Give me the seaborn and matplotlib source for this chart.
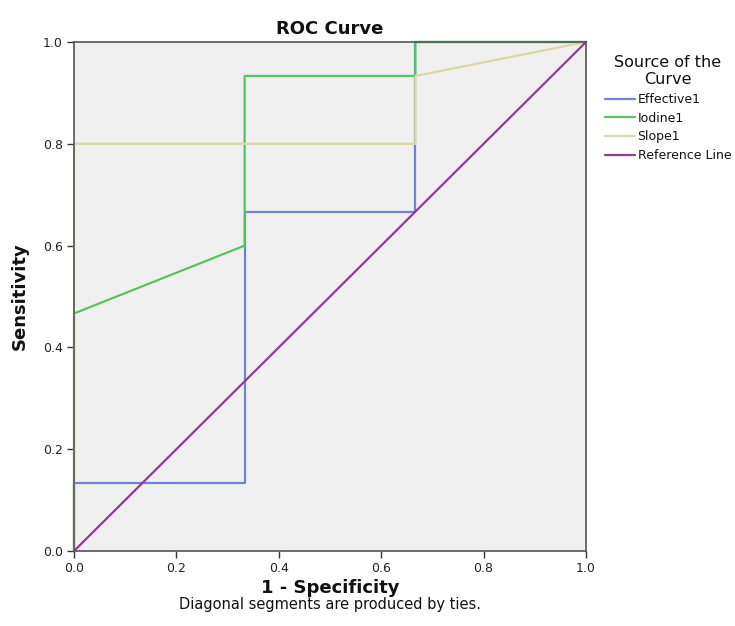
import matplotlib
matplotlib.use("Agg")
import matplotlib.pyplot as plt
import seaborn as sns
import pandas as pd

# Data (1 - specificity, sensitivity) for each curve
effective_x = [0.0, 0.0, 0.3333, 0.3333, 0.6667, 0.6667, 1.0]
effective_y = [0.0, 0.1333, 0.1333, 0.6667, 0.6667, 1.0, 1.0]
iodine_x = [0.0, 0.0, 0.3333, 0.3333, 0.6667, 0.6667, 1.0]
iodine_y = [0.0, 0.4667, 0.6, 0.9333, 0.9333, 1.0, 1.0]
slope_x = [0.0, 0.0, 0.6667, 0.6667, 1.0]
slope_y = [0.0, 0.8, 0.8, 0.9333, 1.0]
ref_x = [0.0, 1.0]
ref_y = [0.0, 1.0]

series_names = ["Effective1", "Iodine1", "Slope1", "Reference Line"]
series_x = [effective_x, iodine_x, slope_x, ref_x]
series_y = [effective_y, iodine_y, slope_y, ref_y]
colors = ["#6f83cf", "#55c45c", "#dcd7a6", "#8e3c98"]

ticks = [0.0, 0.2, 0.4, 0.6, 0.8, 1.0]
tick_labels = ["0.0", "0.2", "0.4", "0.6", "0.8", "1.0"]

sns.set_theme(style="white")
plt.rcParams['font.family'] = ['DejaVu Sans']

fig = plt.figure(figsize=(7.35, 6.26), dpi=100)
ax = fig.add_axes([74/735, 1 - 551/626, (586-74)/735, (551-42)/626])
ax.set_facecolor("#f0f0f0")

for name, xs, ys, c in zip(series_names, series_x, series_y, colors):
    df = pd.DataFrame({"x": xs, "y": ys})
    sns.lineplot(data=df, x="x", y="y", sort=False, estimator=None,
                 color=c, linewidth=1.6, label=name, ax=ax, clip_on=False)

ax.set_xlim(0, 1)
ax.set_ylim(0, 1)
ax.set_xticks(ticks)
ax.set_xticklabels(tick_labels)
ax.set_yticks(ticks)
ax.set_yticklabels(tick_labels)
ax.tick_params(axis="both", direction="out", length=5, width=1, color="#333333",
               labelsize=9, labelcolor="#222222", bottom=True, left=True, pad=3)
for s in ax.spines.values():
    s.set_color("#555555")
    s.set_linewidth(1.2)

ax.set_title("ROC Curve", fontsize=13, fontweight="bold", pad=6, color="#111111")
ax.set_xlabel("1 - Specificity", fontsize=13, fontweight="bold", labelpad=3, color="#111111")
ax.set_ylabel("Sensitivity", fontsize=13, fontweight="bold", labelpad=10, color="#111111")
fig.text((74 + 586) / 2 / 735, 1 - 605/626, "Diagonal segments are produced by ties.",
         ha="center", va="center", fontsize=10.5, color="#111111")

ax.get_legend().remove()
handles, labels = ax.get_legend_handles_labels()
leg = fig.legend(handles, labels, title="Source of the\nCurve", loc="upper left",
                 bbox_to_anchor=(600/735, 1 - 50/626), frameon=False,
                 fontsize=9, title_fontsize=11.5, handlelength=2.4,
                 handletextpad=0.2, labelspacing=0.45, borderaxespad=0,
                 alignment="center")
leg.get_title().set_multialignment("center")
leg.get_title().set_color("#111111")
for t in leg.get_texts():
    t.set_color("#111111")

fig.savefig("out.png", dpi=100)
